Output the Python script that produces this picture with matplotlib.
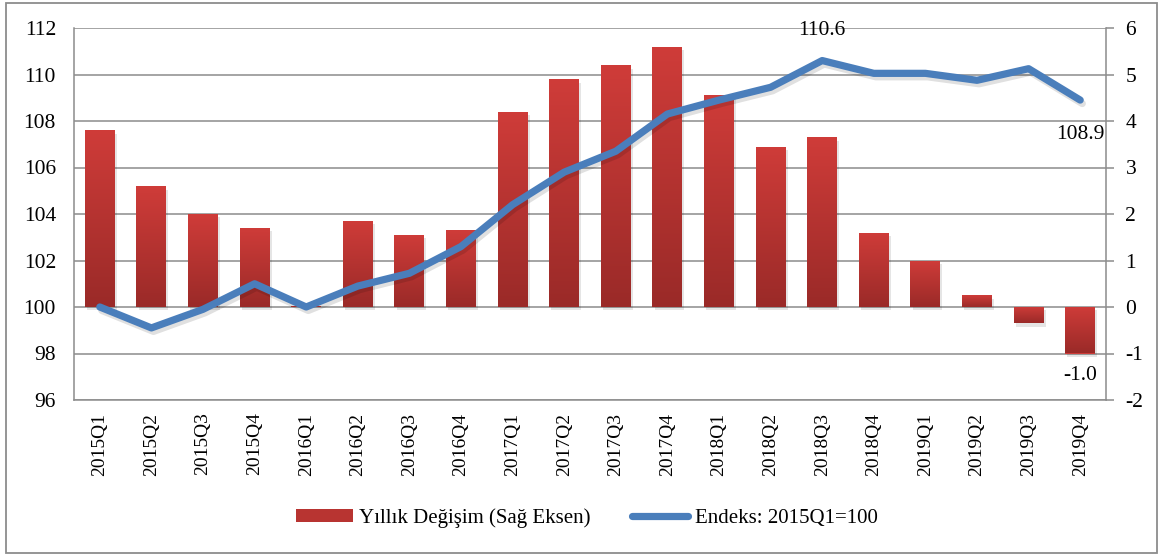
import numpy as np
import matplotlib
matplotlib.use("Agg")
import matplotlib.pyplot as plt
import matplotlib.patheffects as pe
from matplotlib.patches import Rectangle, Patch
from matplotlib.lines import Line2D
from matplotlib.colors import LinearSegmentedColormap

plt.rcParams['font.family'] = ['Liberation Serif', 'DejaVu Serif']
plt.rcParams['axes.unicode_minus'] = False

quarters = ['2015Q1', '2015Q2', '2015Q3', '2015Q4',
            '2016Q1', '2016Q2', '2016Q3', '2016Q4',
            '2017Q1', '2017Q2', '2017Q3', '2017Q4',
            '2018Q1', '2018Q2', '2018Q3', '2018Q4',
            '2019Q1', '2019Q2', '2019Q3', '2019Q4']

# Annual change (%), right axis
annual_change = [3.8, 2.6, 2.0, 1.7,
                 0.02, 1.85, 1.55, 1.65,
                 4.2, 4.9, 5.2, 5.6,
                 4.55, 3.45, 3.65, 1.6,
                 1.0, 0.25, -0.35, -1.0]

# Index, 2015Q1 = 100, left axis
index_values = [100.0, 99.1, 99.9, 101.0,
                100.0, 100.9, 101.45, 102.6,
                104.4, 105.8, 106.7, 108.3,
                108.9, 109.45, 110.6, 110.05,
                110.05, 109.75, 110.25, 108.9]

left_ticks = [96, 98, 100, 102, 104, 106, 108, 110, 112]
right_ticks = [-2, -1, 0, 1, 2, 3, 4, 5, 6]

bar_label = 'Yıllık Değişim (Sağ Eksen)'
line_label = 'Endeks: 2015Q1=100'

GRID = '#8C8C8C'
BLUE = '#4A7EBB'
RED_TOP = '#CF3C39'
RED_BOTTOM = '#9A2A28'

fig = plt.figure(figsize=(11.6, 5.55), dpi=100)
ax = fig.add_axes([74 / 1160, 1 - 400 / 555, (1106 - 74) / 1160, (400 - 28) / 555])
ax2 = ax.twinx()

# Line axis above the bar axis
ax.set_zorder(ax2.get_zorder() + 1)
ax.patch.set_visible(False)

x = np.arange(len(quarters))

# Bars with vertical red gradient
ax2.set_ylim(right_ticks[0], right_ticks[-1])
ax2.set_yticks(right_ticks)
ax2.yaxis.grid(True, color=GRID, linewidth=1.1, zorder=0)
ax2.set_axisbelow(True)
cmap = LinearSegmentedColormap.from_list('redgrad', [RED_BOTTOM, RED_TOP])
grad = np.linspace(0, 1, 256).reshape(-1, 1)
bars = ax2.bar(x, annual_change, width=0.58, color=RED_TOP, zorder=2,
               linewidth=0,
               path_effects=[pe.SimplePatchShadow(offset=(1.5, -2.5), shadow_rgbFace='#000000', alpha=0.10),
                             pe.Normal()])
for b in bars:
    x0, y0 = b.get_x(), b.get_y()
    w, h = b.get_width(), b.get_height()
    lo, hi = min(y0, y0 + h), max(y0, y0 + h)
    im = ax2.imshow(grad, extent=[x0, x0 + w, lo, hi], origin='lower',
                    cmap=cmap, aspect='auto', zorder=3, interpolation='bilinear')
    im.set_clip_path(b)

# Index line
ax.plot(x, index_values, color=BLUE, linewidth=5.2, solid_capstyle='round',
        solid_joinstyle='round', zorder=5,
        path_effects=[pe.SimpleLineShadow(offset=(1.5, -2.5), shadow_color='#000000', alpha=0.12),
                      pe.Normal()])

ax.set_xlim(-0.5, len(quarters) - 0.5)
ax.set_ylim(left_ticks[0], left_ticks[-1])
ax.set_yticks(left_ticks)
ax.set_xticks(x)
ax.set_xticklabels(quarters, rotation=90, fontsize=14)
ax.tick_params(axis='x', length=0, pad=9)
ax.tick_params(axis='y', length=0, pad=13, labelsize=15.5)
ax2.tick_params(axis='y', length=6, width=1.1, color=GRID, pad=8, labelsize=15.5, direction='out')

for s in ['top', 'right']:
    ax.spines[s].set_visible(False)
for s in ['top', 'left', 'bottom']:
    ax2.spines[s].set_visible(False)
ax.spines['left'].set_color(GRID)
ax.spines['bottom'].set_color(GRID)
ax.spines['left'].set_linewidth(1.1)
ax.spines['bottom'].set_linewidth(1.1)
ax2.spines['right'].set_color(GRID)
ax2.spines['right'].set_linewidth(1.1)

# Value labels
peak = int(np.argmax(index_values))
ax.annotate(f'{index_values[peak]:.1f}', (x[peak], index_values[peak]),
            xytext=(0, 30), textcoords='offset pixels', ha='center', va='center', fontsize=15.5)
last = len(quarters) - 1
ax.annotate(f'{index_values[last]:.1f}', (x[last], index_values[last]),
            xytext=(0, -34), textcoords='offset pixels', ha='center', va='center', fontsize=15.5)
ax2.annotate(f'{annual_change[last]:.1f}', (x[last], annual_change[last]),
             xytext=(0, -22), textcoords='offset pixels', ha='center', va='center', fontsize=15.5)

# Legend
handles = [Patch(facecolor='#B83431', edgecolor='none'),
           Line2D([0], [0], color=BLUE, linewidth=5.2, solid_capstyle='round')]
fig.legend(handles, [bar_label, line_label], loc='center',
           bbox_to_anchor=(587 / 1160, 1 - 518 / 555), ncol=2, frameon=False,
           fontsize=15, handlelength=2.7, handleheight=0.55, handletextpad=0.3,
           columnspacing=2.0)

# Outer chart frame
fig.patches.append(Rectangle((6 / 1160, 2 / 555), (1157 - 6) / 1160, (553 - 3) / 555,
                             transform=fig.transFigure, fill=False,
                             edgecolor='#8C8C8C', linewidth=1.3))

fig.savefig('out.png', dpi=100)
